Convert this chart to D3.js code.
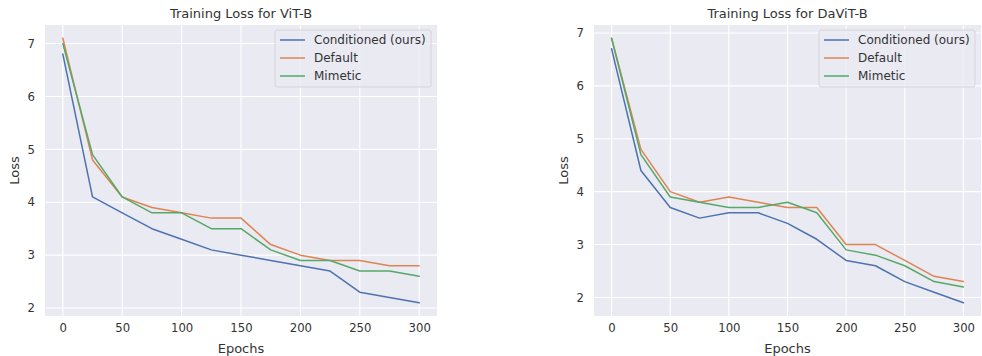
<!DOCTYPE html>
<html>
<head>
<meta charset="utf-8">
<script src="https://cdn.jsdelivr.net/npm/d3@7"></script>
<style>
  body { margin: 0; background: #fff; }
  svg { display: block; font-family: "DejaVu Sans", sans-serif; }
</style>
</head>
<body>
<svg id="chart" width="982" height="356"></svg>
<script>
const epochs = [0, 25, 50, 75, 100, 125, 150, 175, 200, 225, 250, 275, 300];
const seriesNames = ['Conditioned (ours)', 'Default', 'Mimetic'];
const colors = ['#4C72B0', '#DD8452', '#55A868'];

const vitConditioned = [6.8, 4.1, 3.8, 3.5, 3.3, 3.1, 3.0, 2.9, 2.8, 2.7, 2.3, 2.2, 2.1];
const vitDefault     = [7.1, 4.8, 4.1, 3.9, 3.8, 3.7, 3.7, 3.2, 3.0, 2.9, 2.9, 2.8, 2.8];
const vitMimetic     = [7.0, 4.9, 4.1, 3.8, 3.8, 3.5, 3.5, 3.1, 2.9, 2.9, 2.7, 2.7, 2.6];

const davitConditioned = [6.7, 4.4, 3.7, 3.5, 3.6, 3.6, 3.4, 3.1, 2.7, 2.6, 2.3, 2.1, 1.9];
const davitDefault     = [6.9, 4.8, 4.0, 3.8, 3.9, 3.8, 3.7, 3.7, 3.0, 3.0, 2.7, 2.4, 2.3];
const davitMimetic     = [6.9, 4.7, 3.9, 3.8, 3.7, 3.7, 3.8, 3.6, 2.9, 2.8, 2.6, 2.3, 2.2];

const xTicks = [0, 50, 100, 150, 200, 250, 300];
const yTicks = [2, 3, 4, 5, 6, 7];

const panels = [
  { title: 'Training Loss for ViT-B', left: 45, right: 437, series: [vitConditioned, vitDefault, vitMimetic] },
  { title: 'Training Loss for DaViT-B', left: 594, right: 981, series: [davitConditioned, davitDefault, davitMimetic] },
];

const plotTop = 25, plotBottom = 316;
const textColor = '#333';
const svg = d3.select('#chart');

panels.forEach(p => {
  const all = p.series.flat();
  const lo = d3.min(all), hi = d3.max(all), pad = (hi - lo) * 0.05;
  const x = d3.scaleLinear().domain([-15, 315]).range([p.left, p.right]);
  const y = d3.scaleLinear().domain([lo - pad, hi + pad]).range([plotBottom, plotTop]);

  const g = svg.append('g');
  g.append('rect')
    .attr('x', p.left).attr('y', plotTop)
    .attr('width', p.right - p.left).attr('height', plotBottom - plotTop)
    .attr('fill', '#EAEAF2');

  // grid
  g.selectAll('.gx').data(xTicks).join('line')
    .attr('class', 'gx')
    .attr('x1', d => x(d)).attr('x2', d => x(d))
    .attr('y1', plotTop).attr('y2', plotBottom)
    .attr('stroke', '#fff').attr('stroke-width', 1.1);
  g.selectAll('.gy').data(yTicks).join('line')
    .attr('class', 'gy')
    .attr('x1', p.left).attr('x2', p.right)
    .attr('y1', d => y(d)).attr('y2', d => y(d))
    .attr('stroke', '#fff').attr('stroke-width', 1.1);

  // axes (labels only, seaborn darkgrid has no spines/ticks)
  const xAxis = g.append('g').attr('transform', `translate(0,${plotBottom})`)
    .call(d3.axisBottom(x).tickValues(xTicks).tickSize(0).tickPadding(8));
  const yAxis = g.append('g').attr('transform', `translate(${p.left},0)`)
    .call(d3.axisLeft(y).tickValues(yTicks).tickFormat(d3.format('d')).tickSize(0).tickPadding(10));
  [xAxis, yAxis].forEach(a => {
    a.select('.domain').remove();
    a.selectAll('text').attr('fill', textColor).attr('font-size', 11.7)
      .attr('font-family', '"DejaVu Sans", sans-serif');
  });

  // lines
  const line = d3.line().x((d, i) => x(epochs[i])).y(d => y(d));
  p.series.forEach((s, i) => {
    g.append('path').datum(s)
      .attr('d', line)
      .attr('fill', 'none')
      .attr('stroke', colors[i])
      .attr('stroke-width', 1.5)
      .attr('stroke-linejoin', 'round')
      .attr('stroke-linecap', 'round');
  });

  // title & labels
  g.append('text').attr('x', (p.left + p.right) / 2).attr('y', 18)
    .attr('text-anchor', 'middle').attr('font-size', 13).attr('fill', textColor)
    .text(p.title);
  g.append('text').attr('x', (p.left + p.right) / 2).attr('y', 353)
    .attr('text-anchor', 'middle').attr('font-size', 13).attr('fill', textColor)
    .text('Epochs');
  g.append('text')
    .attr('transform', `translate(${p.left - 26},${(plotTop + plotBottom) / 2}) rotate(-90)`)
    .attr('text-anchor', 'middle').attr('font-size', 13).attr('fill', textColor)
    .text('Loss');

  // legend
  const lw = 156, lh = 57;
  const lx = p.right - 6 - lw, ly = 30;
  const leg = g.append('g').attr('transform', `translate(${lx},${ly})`);
  leg.append('rect').attr('width', lw).attr('height', lh).attr('rx', 2)
    .attr('fill', '#EAEAF2').attr('fill-opacity', 0.8)
    .attr('stroke', '#d0d0d0').attr('stroke-width', 0.8);
  seriesNames.forEach((name, i) => {
    const cy = 10 + i * 18;
    leg.append('line').attr('x1', 5).attr('x2', 30).attr('y1', cy).attr('y2', cy)
      .attr('stroke', colors[i]).attr('stroke-width', 1.5);
    leg.append('text').attr('x', 39).attr('y', cy).attr('dy', '0.35em')
      .attr('font-size', 12).attr('fill', textColor).text(name);
  });
});
</script>
</body>
</html>
